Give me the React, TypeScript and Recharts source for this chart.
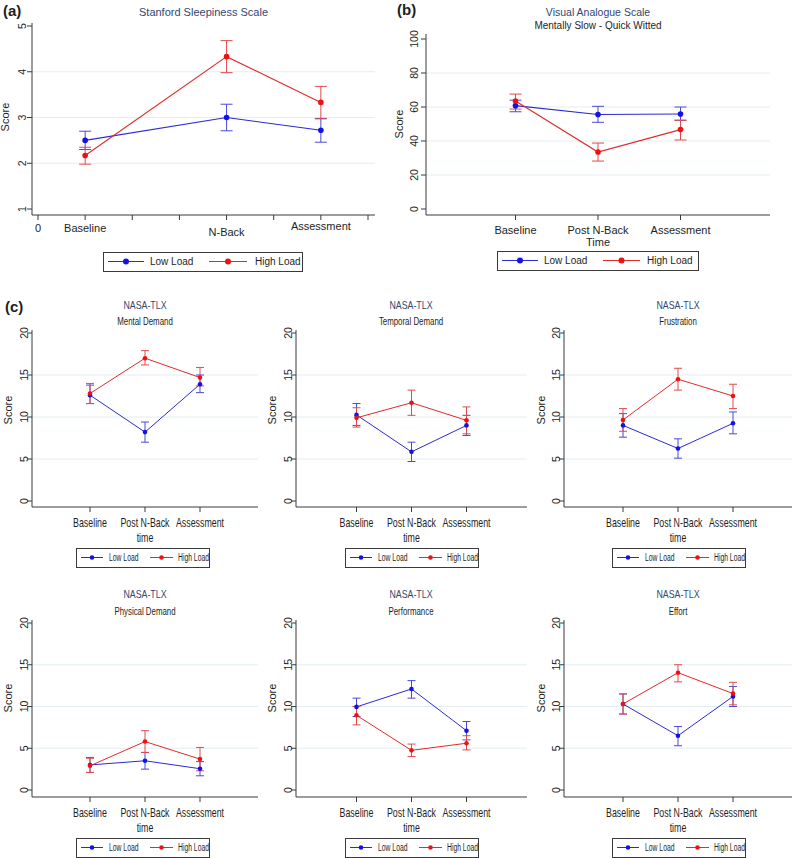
import React from 'react';
import { LineChart, Line, XAxis, YAxis, ErrorBar, CartesianGrid } from 'recharts';

const BLUE = '#2b2bd0';
const RED = '#e02b2b';
const BLUE_DOT = '#1212e6';
const RED_DOT = '#ec1212';
const AXIS = '#3a3a3a';
const GRID = '#e2eef1';
const TITLE = '#34466e';
const INK = '#1e1e1e';
const SANS = '"Liberation Sans", Arial, sans-serif';

const seriesNames = ['Low Load', 'High Load'];

// (a) Stanford Sleepiness Scale
const sssX = [1, 4, 6];
const sssTicks = [0, 1, 2, 3, 4, 5, 6, 7];
const sssTickLabels = ['0', 'Baseline', '', '', 'N-Back', '', 'Assessment', ''];
const sssLow = [2.5, 3.0, 2.72];
const sssLowCI = [[2.3, 2.7], [2.71, 3.29], [2.46, 2.98]];
const sssHigh = [2.17, 4.33, 3.33];
const sssHighCI = [[1.98, 2.35], [3.98, 4.68], [2.97, 3.68]];

// (b) Visual Analogue Scale
const timeX = [1, 2, 3];
const vasTickLabels = ['Baseline', 'Post N-Back\nTime', 'Assessment'];
const vasLow = [60.8, 55.6, 55.9];
const vasLowCI = [[57.2, 64.0], [51.0, 60.4], [52.2, 60.0]];
const vasHigh = [63.5, 33.5, 46.7];
const vasHighCI = [[58.8, 67.6], [28.2, 38.8], [40.6, 52.2]];

// (c) NASA-TLX subscales
const tlxTickLabels = ['Baseline', 'Post N-Back\ntime', 'Assessment'];

const mentalLow = [12.6, 8.2, 13.9];
const mentalLowCI = [[11.6, 13.8], [7.0, 9.4], [12.9, 15.0]];
const mentalHigh = [12.8, 17.0, 14.7];
const mentalHighCI = [[11.6, 14.0], [16.2, 17.9], [13.7, 15.9]];

const temporalLow = [10.25, 5.85, 9.0];
const temporalLowCI = [[9.0, 11.6], [4.7, 7.0], [7.8, 10.2]];
const temporalHigh = [9.9, 11.7, 9.6];
const temporalHighCI = [[8.8, 11.1], [10.2, 13.2], [8.0, 11.2]];

const frustrationLow = [9.0, 6.25, 9.25];
const frustrationLowCI = [[7.6, 10.4], [5.1, 7.4], [8.0, 10.6]];
const frustrationHigh = [9.65, 14.5, 12.5];
const frustrationHighCI = [[8.3, 11.0], [13.2, 15.8], [11.0, 13.9]];

const physicalLow = [3.0, 3.5, 2.55];
const physicalLowCI = [[2.1, 3.9], [2.5, 4.5], [1.7, 3.4]];
const physicalHigh = [2.9, 5.8, 3.7];
const physicalHighCI = [[2.1, 3.8], [4.5, 7.1], [2.3, 5.1]];

const performanceLow = [9.95, 12.1, 7.1];
const performanceLowCI = [[8.8, 11.0], [11.0, 13.1], [6.0, 8.2]];
const performanceHigh = [8.95, 4.75, 5.6];
const performanceHighCI = [[7.8, 10.0], [4.0, 5.5], [4.8, 6.5]];

const effortLow = [10.3, 6.5, 11.2];
const effortLowCI = [[9.1, 11.5], [5.3, 7.6], [10.0, 12.4]];
const effortHigh = [10.3, 14.05, 11.55];
const effortHighCI = [[9.1, 11.5], [12.95, 15.0], [10.2, 12.9]];

const sssYTicks = [1, 2, 3, 4, 5];
const vasYTicks = [0, 20, 40, 60, 80, 100];
const tlxYTicks = [0, 5, 10, 15, 20];

type Row = { x: number; low: number; high: number; lowErr: number[]; highErr: number[] };

function buildRows(xs: number[], low: number[], lowCI: number[][], high: number[], highCI: number[][]): Row[] {
  return xs.map((x, i) => ({
    x,
    low: low[i],
    high: high[i],
    lowErr: [low[i] - lowCI[i][0], lowCI[i][1] - low[i]],
    highErr: [high[i] - highCI[i][0], highCI[i][1] - high[i]],
  }));
}

function XTick(props: any) {
  const { x, y, payload, labels, ticks, shifts, fontSize, squeeze, lineGap } = props;
  const i = ticks.indexOf(payload.value);
  const text: string = i >= 0 ? labels[i] : '';
  if (!text) return <g />;
  const shift = shifts ? shifts[i] : 0;
  return (
    <g transform={`translate(${x},${y + shift}) scale(${squeeze},1)`}>
      <text textAnchor="middle" fontFamily={SANS} fontSize={fontSize} fill={INK}>
        {text.split('\n').map((line, k) => (
          <tspan key={k} x={0} y={fontSize * 0.8 + k * lineGap}>
            {line}
          </tspan>
        ))}
      </text>
    </g>
  );
}

function YTick(props: any) {
  const { x, y, payload, fontSize } = props;
  return (
    <text
      transform={`translate(${x},${y}) rotate(-90)`}
      textAnchor="middle"
      dy="0.35em"
      fontFamily={SANS}
      fontSize={fontSize}
      fill={INK}
    >
      {payload.value}
    </text>
  );
}

type PanelProps = {
  rows: Row[];
  left: number;
  top: number;
  width: number;
  height: number;
  marginTop: number;
  marginRight: number;
  yAxisWidth: number;
  xAxisHeight: number;
  xDomain: number[];
  xTicks: number[];
  xLabels: string[];
  xShift?: number[];
  xPadLeft: number;
  xPadRight: number;
  yDomain: number[];
  yTicks: number[];
  yPadTop: number;
  yPadBottom: number;
  tickFont: number;
  squeeze: number;
  lineGap: number;
  yTickFont: number;
  yTickMargin: number;
  dotR: number;
  capW: number;
  lineW: number;
};

function Panel(p: PanelProps) {
  const grid = p.yTicks.slice(1, -1);
  return (
    <div style={{ position: 'absolute', left: p.left, top: p.top }}>
      <LineChart
        width={p.width}
        height={p.height}
        data={p.rows}
        margin={{ top: p.marginTop, right: p.marginRight, left: 0, bottom: 0 }}
      >
        <CartesianGrid vertical={false} horizontalValues={grid} stroke={GRID} strokeWidth={1} />
        <XAxis
          type="number"
          dataKey="x"
          domain={p.xDomain}
          ticks={p.xTicks}
          interval={0}
          padding={{ left: p.xPadLeft, right: p.xPadRight }}
          height={p.xAxisHeight}
          tickSize={5}
          tickMargin={2}
          stroke={AXIS}
          tickLine={{ stroke: AXIS }}
          tick={
            <XTick
              labels={p.xLabels}
              ticks={p.xTicks}
              shifts={p.xShift}
              fontSize={p.tickFont}
              squeeze={p.squeeze}
              lineGap={p.lineGap}
            />
          }
        />
        <YAxis
          type="number"
          domain={p.yDomain}
          ticks={p.yTicks}
          interval={0}
          padding={{ top: p.yPadTop, bottom: p.yPadBottom }}
          width={p.yAxisWidth}
          tickSize={5}
          tickMargin={p.yTickMargin}
          stroke={AXIS}
          tickLine={{ stroke: AXIS }}
          tick={<YTick fontSize={p.yTickFont} />}
        />
        <Line
          type="linear"
          dataKey="low"
          name={seriesNames[0]}
          stroke={BLUE}
          strokeWidth={p.lineW}
          dot={{ r: p.dotR, fill: BLUE_DOT, stroke: BLUE_DOT, strokeWidth: 0 }}
          activeDot={false}
          isAnimationActive={false}
        >
          <ErrorBar dataKey="lowErr" direction="y" width={p.capW} stroke="#4a4ad8" strokeWidth={1} />
        </Line>
        <Line
          type="linear"
          dataKey="high"
          name={seriesNames[1]}
          stroke={RED}
          strokeWidth={p.lineW}
          dot={{ r: p.dotR, fill: RED_DOT, stroke: RED_DOT, strokeWidth: 0 }}
          activeDot={false}
          isAnimationActive={false}
        >
          <ErrorBar dataKey="highErr" direction="y" width={p.capW} stroke="#e24a4a" strokeWidth={1} />
        </Line>
      </LineChart>
    </div>
  );
}

function LoadLegend(props: {
  x: number;
  y: number;
  w: number;
  h: number;
  lines: number[][];
  texts: number[];
  fontSize: number;
  squeeze: number;
  dotR: number;
}) {
  const { x, y, w, h, lines, texts, fontSize, squeeze, dotR } = props;
  const cy = y + h / 2;
  return (
    <g>
      <rect x={x + 0.5} y={y + 0.5} width={w} height={h} fill="#fff" stroke={AXIS} strokeWidth={1} />
      {seriesNames.map((name, i) => {
        const [a, b] = lines[i];
        return (
          <g key={name}>
            <line x1={x + a} x2={x + b} y1={cy} y2={cy} stroke={i === 0 ? BLUE : RED} strokeWidth={1} />
            <circle cx={x + (a + b) / 2} cy={cy} r={dotR} fill={i === 0 ? BLUE_DOT : RED_DOT} />
            <text
              transform={`translate(${x + texts[i]},${cy}) scale(${squeeze},1)`}
              dy="0.35em"
              fontFamily={SANS}
              fontSize={fontSize}
              fill={INK}
            >
              {name}
            </text>
          </g>
        );
      })}
    </g>
  );
}

function Caption(props: { x: number; y: number; text: string; size: number; fill?: string; squeeze?: number; bold?: boolean; anchor?: string }) {
  const { x, y, text, size, fill = INK, squeeze = 1, bold = false, anchor = 'middle' } = props;
  return (
    <text
      transform={`translate(${x},${y}) scale(${squeeze},1)`}
      textAnchor={anchor as any}
      dy="0.35em"
      fontFamily={SANS}
      fontSize={size}
      fontWeight={bold ? 'bold' : 'normal'}
      fill={fill}
    >
      {text}
    </text>
  );
}

function ScoreText(props: { x: number; y: number; size: number }) {
  return (
    <text
      transform={`translate(${props.x},${props.y}) rotate(-90)`}
      textAnchor="middle"
      dy="0.35em"
      fontFamily={SANS}
      fontSize={props.size}
      fill={INK}
    >
      Score
    </text>
  );
}

const tlxPanels = [
  { title: 'Mental Demand', low: mentalLow, lowCI: mentalLowCI, high: mentalHigh, highCI: mentalHighCI },
  { title: 'Temporal Demand', low: temporalLow, lowCI: temporalLowCI, high: temporalHigh, highCI: temporalHighCI },
  { title: 'Frustration', low: frustrationLow, lowCI: frustrationLowCI, high: frustrationHigh, highCI: frustrationHighCI },
  { title: 'Physical Demand', low: physicalLow, lowCI: physicalLowCI, high: physicalHigh, highCI: physicalHighCI },
  { title: 'Performance', low: performanceLow, lowCI: performanceLowCI, high: performanceHigh, highCI: performanceHighCI },
  { title: 'Effort', low: effortLow, lowCI: effortLowCI, high: effortHigh, highCI: effortHighCI },
];

// layout of the 3x2 NASA grid
const colLeft = [0, 262, 530];
const colWidth = [262, 268, 263];
const colAxisW = [32, 34, 34];
const colRight = [4, 3, 1];
const colPad = [3, 5.5, 4];
const colCenter = [145, 411, 678];
const colScoreX = [8, 272, 541];
const colLegendX = [76, 345, 612];
const rowTop = [290, 580];
const rowTitleY = [305, 594];
const rowSubY = [321, 611];
const rowScoreY = [410, 698];
const rowLegendY = [548, 838];
const rowPadBottom = [6, 7];

export default function App() {
  const sssRows = buildRows(sssX, sssLow, sssLowCI, sssHigh, sssHighCI);
  const vasRows = buildRows(timeX, vasLow, vasLowCI, vasHigh, vasHighCI);

  return (
    <div style={{ position: 'absolute', left: 0, top: 0, width: 793, height: 858, background: '#fff', overflow: 'hidden' }}>
      <Panel
        rows={sssRows}
        left={0}
        top={0}
        width={393}
        height={262}
        marginTop={23}
        marginRight={18}
        yAxisWidth={32}
        xAxisHeight={47}
        xDomain={[0, 7]}
        xTicks={sssTicks}
        xLabels={sssTickLabels}
        xShift={[1, 1.5, 0, 0, 5, 0, -1, 0]}
        xPadLeft={6}
        xPadRight={7}
        yDomain={[1, 5]}
        yTicks={sssYTicks}
        yPadTop={3}
        yPadBottom={6}
        tickFont={11}
        squeeze={1}
        lineGap={12}
        yTickFont={10.5}
        yTickMargin={5}
        dotR={2.8}
        capW={6}
        lineW={1.1}
      />
      <Panel
        rows={vasRows}
        left={390}
        top={0}
        width={403}
        height={262}
        marginTop={34}
        marginRight={23}
        yAxisWidth={36}
        xAxisHeight={47}
        xDomain={[0, 4]}
        xTicks={timeX}
        xLabels={vasTickLabels}
        xShift={[3, 3, 3]}
        xPadLeft={7}
        xPadRight={7}
        yDomain={[0, 100]}
        yTicks={vasYTicks}
        yPadTop={5}
        yPadBottom={6}
        tickFont={11}
        squeeze={1}
        lineGap={12}
        yTickFont={10.5}
        yTickMargin={7}
        dotR={2.8}
        capW={6}
        lineW={1.1}
      />
      {tlxPanels.map((panel, k) => {
        const c = k % 3;
        const r = Math.floor(k / 3);
        return (
          <Panel
            key={panel.title}
            rows={buildRows(timeX, panel.low, panel.lowCI, panel.high, panel.highCI)}
            left={colLeft[c]}
            top={rowTop[r]}
            width={colWidth[c]}
            height={266}
            marginTop={40}
            marginRight={colRight[c]}
            yAxisWidth={colAxisW[c]}
            xAxisHeight={49}
            xDomain={[0, 4]}
            xTicks={timeX}
            xLabels={tlxTickLabels}
            xShift={[3, 3, 3]}
            xPadLeft={colPad[c]}
            xPadRight={colPad[c]}
            yDomain={[0, 20]}
            yTicks={tlxYTicks}
            yPadTop={3}
            yPadBottom={rowPadBottom[r]}
            tickFont={13}
            squeeze={0.68}
            lineGap={15}
            yTickFont={10.5}
            yTickMargin={3}
            dotR={2.3}
            capW={4}
            lineW={1}
          />
        );
      })}
      <svg
        width={793}
        height={858}
        style={{ position: 'absolute', left: 0, top: 0, pointerEvents: 'none' }}
      >
        <Caption x={3} y={11} text="(a)" size={15} bold anchor="start" />
        <Caption x={203.5} y={12} text="Stanford Sleepiness Scale" size={11} fill={TITLE} />
        <ScoreText x={5} y={117} size={11} />
        <LoadLegend
          x={103}
          y={252}
          w={199}
          h={19}
          lines={[[5, 41], [106, 144]]}
          texts={[47, 152]}
          fontSize={10}
          squeeze={1}
          dotR={3}
        />

        <Caption x={397} y={10} text="(b)" size={15} bold anchor="start" />
        <Caption x={598} y={12} text="Visual Analogue Scale" size={10.5} fill={TITLE} />
        <Caption x={598} y={25} text="Mentally Slow - Quick Witted" size={10} />
        <ScoreText x={399} y={124} size={11} />
        <LoadLegend
          x={497}
          y={251}
          w={201}
          h={19}
          lines={[[5, 41], [106, 143]]}
          texts={[47, 150]}
          fontSize={10}
          squeeze={1}
          dotR={3}
        />

        <Caption x={5} y={307} text="(c)" size={15} bold anchor="start" />
        {tlxPanels.map((panel, k) => {
          const c = k % 3;
          const r = Math.floor(k / 3);
          return (
            <g key={panel.title}>
              <Caption x={colCenter[c]} y={rowTitleY[r]} text="NASA-TLX" size={11} fill={TITLE} squeeze={0.8} />
              <Caption x={colCenter[c]} y={rowSubY[r]} text={panel.title} size={10.5} squeeze={0.75} />
              <ScoreText x={colScoreX[c]} y={rowScoreY[r]} size={11} />
              <LoadLegend
                x={colLegendX[c]}
                y={rowLegendY[r]}
                w={133}
                h={19}
                lines={[[5, 27], [74, 97]]}
                texts={[33, 102]}
                fontSize={10}
                squeeze={0.68}
                dotR={2.3}
              />
            </g>
          );
        })}
      </svg>
    </div>
  );
}
